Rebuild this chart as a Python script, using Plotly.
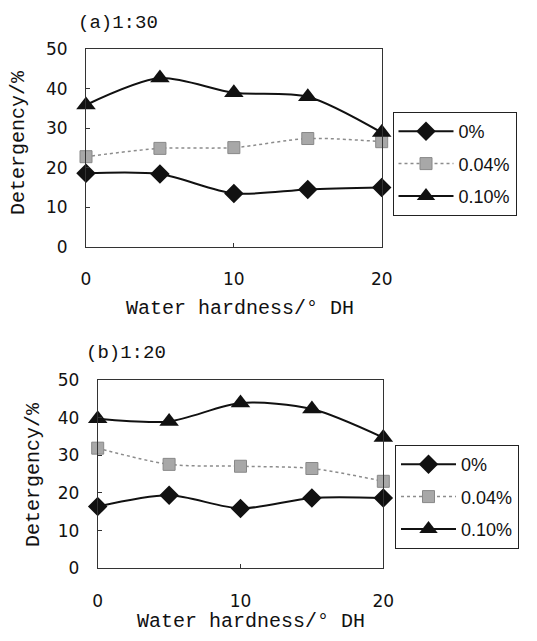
import plotly.graph_objects as go

# page pixels: the figure sits inside the page's default 8px body margin
OFF = 8
W, H = 537 - 2 * OFF, 641 - 2 * OFF

hardness = [0, 5, 10, 15, 20]
series_names = ["0%", "0.04%", "0.10%"]

# (a) 1:30
a_0 = [18.6, 18.4, 13.5, 14.5, 15.0]
a_004 = [22.8, 24.9, 25.1, 27.4, 26.6]
a_010 = [35.9, 42.7, 39.0, 38.0, 28.9]

# (b) 1:20
b_0 = [16.4, 19.4, 15.9, 18.7, 18.7]
b_004 = [31.9, 27.6, 27.1, 26.5, 23.1]
b_010 = [39.7, 39.0, 43.9, 42.3, 34.7]

x_ticks = [0, 10, 20]
y_ticks = [0, 10, 20, 30, 40, 50]

panel_titles = ["(a)1:30", "(b)1:20"]
x_title = "Water hardness/° DH"
y_title = "Detergency/%"

styles = [
    dict(line=dict(color="#111111", width=2, shape="spline", smoothing=0.8),
         marker=dict(symbol="diamond", size=15, color="#111111")),
    dict(line=dict(color="#8c8c8c", width=1.5, dash="dot", shape="spline", smoothing=0.8),
         marker=dict(symbol="square", size=12, color="#a8a8a8",
                     line=dict(color="#888888", width=1))),
    dict(line=dict(color="#111111", width=2, shape="spline", smoothing=0.8),
         marker=dict(symbol="triangle-up", size=17, color="#111111")),
]

fig = go.Figure()

panels = [
    dict(data=[a_0, a_004, a_010], xa="x", ya="y", legend="legend"),
    dict(data=[b_0, b_004, b_010], xa="x2", ya="y2", legend="legend2"),
]
for p in panels:
    for i, (name, vals) in enumerate(zip(series_names, p["data"])):
        fig.add_trace(go.Scatter(
            x=hardness, y=vals, name=name, mode="lines+markers",
            xaxis=p["xa"], yaxis=p["ya"], legend=p["legend"],
            legendgroup=p["legend"] + name, cliponaxis=False,
            line=styles[i]["line"], marker=styles[i]["marker"],
        ))

def px_x(v):
    return (v - OFF) / W

def px_y(v):
    return 1 - (v - OFF) / H

tick_font = dict(family="DejaVu Sans, Arial, sans-serif", size=17, color="#111111")
mono = "Liberation Mono, Courier New, monospace"

def xaxis(dom, anchor):
    return dict(domain=dom, anchor=anchor, range=[0, 20], tickvals=x_ticks,
                ticks="inside", ticklen=4, tickcolor="#333", showgrid=False,
                zeroline=False, showline=True, mirror=True, linecolor="#333",
                linewidth=1, tickfont=tick_font, ticklabelstandoff=17,
                automargin=False)

def yaxis(dom, anchor):
    return dict(domain=dom, anchor=anchor, range=[0, 50], tickvals=y_ticks,
                ticks="inside", ticklen=4, tickcolor="#333", showgrid=False,
                zeroline=False, showline=True, mirror=True, linecolor="#333",
                linewidth=1, tickfont=tick_font, ticklabelstandoff=14,
                automargin=False)

legend_common = dict(bgcolor="white", bordercolor="#222", borderwidth=1,
                     font=dict(family="Liberation Sans, Arial, sans-serif", size=18, color="#111"),
                     tracegroupgap=6, itemwidth=55, xanchor="left", yanchor="top")

fig.update_layout(
    width=W, height=H,
    margin=dict(l=0, r=0, t=0, b=0, pad=0, autoexpand=False),
    paper_bgcolor="white", plot_bgcolor="white",
    xaxis=xaxis([px_x(86), px_x(381.7)], "y"),
    yaxis=yaxis([px_y(246.7), px_y(49.3)], "x"),
    xaxis2=xaxis([px_x(97.7), px_x(383.3)], "y2"),
    yaxis2=yaxis([px_y(568.3), px_y(380)], "x2"),
    legend=dict(x=px_x(392.5), y=px_y(112), **legend_common),
    legend2=dict(x=px_x(395), y=px_y(445), **legend_common),
    annotations=[
        dict(text=panel_titles[0], x=px_x(76), y=px_y(23), xref="paper", yref="paper",
             xanchor="left", yanchor="middle", showarrow=False,
             font=dict(family=mono, size=19, color="#111")),
        dict(text=panel_titles[1], x=px_x(84), y=px_y(353), xref="paper", yref="paper",
             xanchor="left", yanchor="middle", showarrow=False,
             font=dict(family=mono, size=19, color="#111")),
        dict(text=x_title, x=px_x(240), y=px_y(308), xref="paper", yref="paper",
             xanchor="center", yanchor="middle", showarrow=False,
             font=dict(family=mono, size=20, color="#111")),
        dict(text=x_title, x=px_x(251), y=px_y(621), xref="paper", yref="paper",
             xanchor="center", yanchor="middle", showarrow=False,
             font=dict(family=mono, size=20, color="#111")),
        dict(text=y_title, x=px_x(19), y=px_y(143), xref="paper", yref="paper",
             xanchor="center", yanchor="middle", showarrow=False, textangle=-90,
             font=dict(family=mono, size=20, color="#111")),
        dict(text=y_title, x=px_x(33), y=px_y(475), xref="paper", yref="paper",
             xanchor="center", yanchor="middle", showarrow=False, textangle=-90,
             font=dict(family=mono, size=20, color="#111")),
    ],
)

fig.write_html("out.html")
